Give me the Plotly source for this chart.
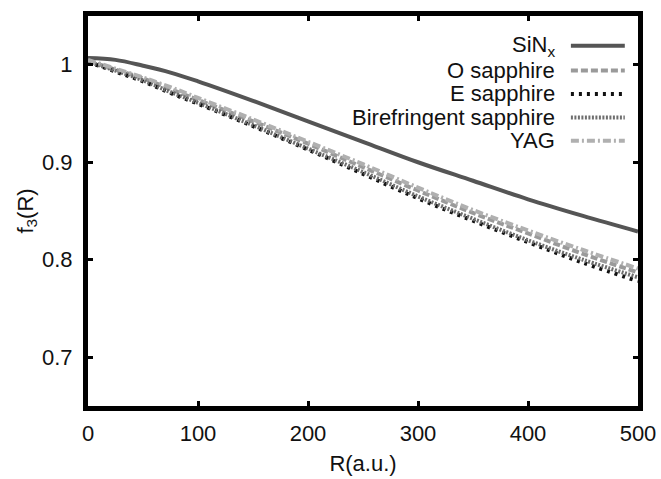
import plotly.graph_objects as go

# Radial coordinate (a.u.)
R = [0, 25, 50, 75, 100, 150, 200, 250, 300, 350, 400, 450, 500]

# f3(R) for each material
sinx = [1.007, 1.005, 0.999, 0.992, 0.983, 0.963, 0.942, 0.921, 0.900, 0.881, 0.862, 0.845, 0.829]
o_sapphire = [1.004, 0.995, 0.986, 0.975, 0.964, 0.942, 0.919, 0.895, 0.871, 0.848, 0.827, 0.806, 0.787]
e_sapphire = [1.003, 0.993, 0.983, 0.971, 0.960, 0.937, 0.913, 0.888, 0.863, 0.840, 0.818, 0.797, 0.778]
bire_sapphire = [1.003, 0.994, 0.984, 0.972, 0.961, 0.938, 0.914, 0.890, 0.865, 0.842, 0.820, 0.800, 0.782]
yag = [1.005, 0.996, 0.987, 0.977, 0.966, 0.944, 0.921, 0.898, 0.874, 0.851, 0.830, 0.810, 0.791]

x_ticks = [0, 100, 200, 300, 400, 500]
y_ticks = [0.7, 0.8, 0.9, 1.0]
y_tick_text = ["0.7", "0.8", "0.9", "1"]

series = [
    ("SiN<sub>x</sub>", sinx, "#555555", "solid", 4),
    ("O sapphire", o_sapphire, "#9a9a9a", "7px,3px", 4),
    ("E sapphire", e_sapphire, "#111111", "3px,5px", 4),
    ("Birefringent sapphire", bire_sapphire, "#6e6e6e", "2px,1.5px", 4),
    ("YAG", yag, "#b0b0b0", "8px,3px,2px,3px", 4),
]

FS = 22

fig = go.Figure()
for name, vals, color, dash, width in series:
    fig.add_trace(go.Scatter(
        x=R, y=vals, mode="lines", name=name, showlegend=False,
        line=dict(color=color, dash=dash, width=width, shape="spline"),
    ))

# Key in the upper right: label on the left, line sample on the right
row_y = [0.924, 0.860, 0.800, 0.740, 0.680]
for (name, vals, color, dash, width), yy in zip(series, row_y):
    fig.add_annotation(
        xref="paper", yref="paper", x=0.852, y=yy, text=name,
        showarrow=False, xanchor="right", yanchor="middle",
        font=dict(size=FS, color="#111111"),
    )
    fig.add_shape(
        type="line", xref="paper", yref="paper",
        x0=0.878, x1=0.976, y0=yy, y1=yy,
        line=dict(color=color, dash=dash, width=width),
    )

axis_common = dict(
    showline=True, linecolor="black", linewidth=5, mirror="ticks",
    ticks="inside", ticklen=5, tickwidth=3, tickcolor="black",
    showgrid=False, zeroline=False, automargin=False,
    tickfont=dict(size=FS, color="#111111"),
)

fig.update_layout(
    width=661, height=479,
    margin=dict(l=88, r=23, t=16, b=73),
    paper_bgcolor="white", plot_bgcolor="white",
    font=dict(family="Liberation Sans, Arial, sans-serif", color="#111111"),
    xaxis=dict(range=[0, 500], tickvals=x_ticks, ticklabelstandoff=4,
               title=dict(text="R(a.u.)", font=dict(size=FS), standoff=12),
               **axis_common),
    yaxis=dict(range=[0.65, 1.05], tickvals=y_ticks, ticktext=y_tick_text,
               ticklabelstandoff=6,
               title=dict(text="f<sub>3</sub>(R)", font=dict(size=FS), standoff=4),
               **axis_common),
)

fig.write_html("out.html")
